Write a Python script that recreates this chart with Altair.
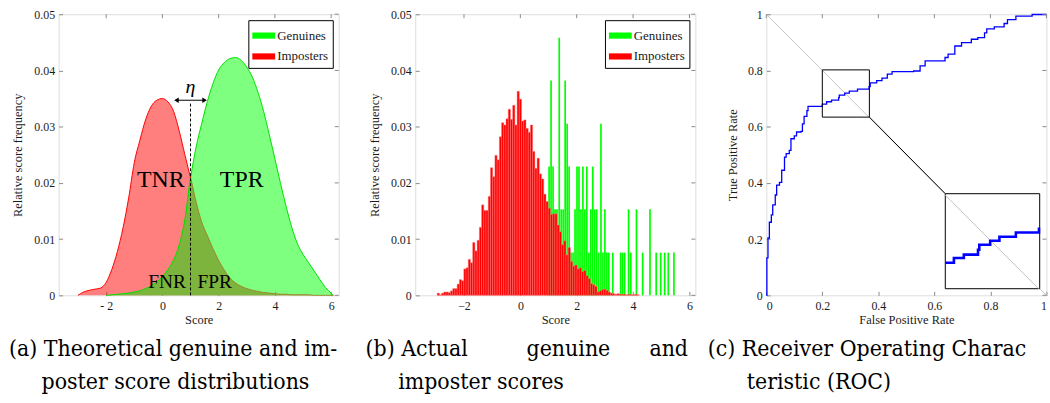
import altair as alt
import pandas as pd

FONT = "Liberation Serif"
CAP_FONT = "DejaVu Serif Condensed"
INK = "#1a1a1a"
TICK = "#8a8a8a"
NB = "\u00a0"
ZW = "\u200b"

# ---------------- (a) theoretical score distributions ----------------
score_grid = [-3.0, -2.8, -2.6, -2.4, -2.2, -2.0, -1.8, -1.6, -1.4, -1.2, -1.0, -0.8, -0.6,
              -0.4, -0.2, 0.0, 0.2, 0.4, 0.6, 0.8, 1.0, 1.2, 1.4, 1.6, 1.8, 2.0, 2.2, 2.4,
              2.6, 2.8, 3.0, 3.2, 3.4, 3.6, 3.8, 4.0, 4.2, 4.4, 4.6, 4.8, 5.0, 5.2, 5.4,
              5.6, 5.8, 6.0, 6.08]
imposter_density = [0.0, 0.0006, 0.0009, 0.0011, 0.0013, 0.0023, 0.0046, 0.0078, 0.0120, 0.0173,
                    0.0236, 0.0276, 0.0312, 0.0336, 0.0347, 0.0350, 0.0344, 0.0327, 0.0292, 0.0250,
                    0.0209, 0.0166, 0.0130, 0.0106, 0.0083, 0.0062, 0.0045, 0.0031, 0.0022, 0.0016,
                    0.0012, 0.0009, 0.0007, 0.0005, 0.0004, 0.0003, 0.0002, 0.0002, 0.0001, 0.0001,
                    0.0001, 0.0001, 0.0, 0.0, 0.0, 0.0, 0.0]
genuine_density = [None, None, None, None, None, 0.0, 0.0001, 0.0002, 0.0003, 0.0004,
                   0.0006, 0.0008, 0.0012, 0.0017, 0.0024, 0.0033, 0.0046, 0.0063, 0.0090, 0.0135,
                   0.0208, 0.0264, 0.0306, 0.0345, 0.0377, 0.0401, 0.0414, 0.0421, 0.0423, 0.0418,
                   0.0406, 0.0388, 0.0361, 0.0327, 0.0286, 0.0243, 0.0199, 0.0158, 0.0121, 0.0092,
                   0.0073, 0.0058, 0.0043, 0.0028, 0.0014, 0.0004, 0.0]
threshold_eta = 1.0
threshold_top = 0.0344
arrow_ends = [0.5, 1.5]
arrow_level = 0.0347
eta_x, eta_y = 1.0, 0.0370
big_labels, big_x, big_y = ["TNR", "TPR"], [-0.06, 2.82], [0.0205, 0.0205]
small_labels, small_x, small_y = ["FNR", "FPR"], [0.17, 1.86], [0.0023, 0.0023]

# ---------------- (b) actual score histograms ----------------
imposter_bin_start = -2.952
imposter_bin_width = 0.0788
imposter_hist = [0.0004, 0.0001, 0.0004, 0.0006, 0.0006, 0.0005, 0.0008, 0.0012, 0.0012, 0.0020,
                 0.0028, 0.0026, 0.0047, 0.0049, 0.0064, 0.0058, 0.0094, 0.0079, 0.0098, 0.0121,
                 0.0161, 0.0151, 0.0151, 0.0176, 0.0227, 0.0211, 0.0249, 0.0241, 0.0282, 0.0307,
                 0.0303, 0.0314, 0.0331, 0.0313, 0.0338, 0.0303, 0.0363, 0.0349, 0.0310, 0.0312,
                 0.0297, 0.0290, 0.0303, 0.0256, 0.0226, 0.0244, 0.0216, 0.0207, 0.0180, 0.0167,
                 0.0155, 0.0144, 0.0145, 0.0145, 0.0125, 0.0113, 0.0090, 0.0097, 0.0072, 0.0085,
                 0.0060, 0.0052, 0.0054, 0.0047, 0.0049, 0.0042, 0.0044, 0.0035, 0.0030, 0.0021,
                 0.0019, 0.0016, 0.0006, 0.0008, 0.0010, 0.0011, 0.0009, 0.0006, 0.0004, 0.0003,
                 0.0002, 0.0003, 0.0002, 0.0002, 0.0002, 0.0001, 0.0002, 0.0001, 0.0001, 0.0002,
                 0.0001]
genuine_bar_x = [1.02, 1.09, 1.16, 1.23, 1.30, 1.38, 1.45, 1.52, 1.59, 1.66, 1.73, 1.80, 1.87,
                 1.94, 2.01, 2.08, 2.15, 2.22, 2.29, 2.36, 2.43, 2.50, 2.57, 2.64, 2.71, 2.78,
                 2.86, 2.93, 3.00, 3.07, 3.14, 3.28, 3.56, 3.63, 3.70, 3.84, 3.92, 4.12, 4.34,
                 4.60, 4.82, 4.98, 5.12, 5.25, 5.45]
genuine_hist = [0.0229, 0.0382, 0.0229, 0.0153, 0.0153, 0.0458, 0.0153, 0.0153, 0.0382, 0.0305,
                0.0229, 0.0076, 0.0076, 0.0153, 0.0229, 0.0229, 0.0153, 0.0229, 0.0153, 0.0229,
                0.0076, 0.0153, 0.0229, 0.0153, 0.0153, 0.0076, 0.0305, 0.0076, 0.0153, 0.0076,
                0.0076, 0.0076, 0.0076, 0.0076, 0.0076, 0.0153, 0.0076, 0.0153, 0.0076, 0.0153,
                0.0076, 0.0076, 0.0076, 0.0076, 0.0076]
genuine_bar_width = 0.06

# ---------------- (c) ROC ----------------
fpr = [0, 0.002, 0.006, 0.011, 0.018, 0.023, 0.032, 0.037, 0.047, 0.055, 0.065, 0.071, 0.082,
       0.088, 0.1, 0.108, 0.124, 0.129, 0.135, 0.145, 0.149, 0.2, 0.2153, 0.233, 0.2582, 0.2605,
       0.2799, 0.2963, 0.3256, 0.3667, 0.371, 0.394, 0.413, 0.432, 0.449, 0.526, 0.549, 0.567,
       0.629, 0.638, 0.649, 0.673, 0.697, 0.732, 0.755, 0.779, 0.787, 0.814, 0.849, 0.861,
       0.891, 0.949, 1.0]
tpr = [0, 0.133, 0.204, 0.26, 0.286, 0.322, 0.357, 0.392, 0.402, 0.445, 0.492, 0.504, 0.516,
       0.557, 0.567, 0.581, 0.583, 0.61, 0.637, 0.657, 0.672, 0.680, 0.6886, 0.6945, 0.7032,
       0.712, 0.719, 0.7262, 0.7338, 0.7426, 0.756, 0.764, 0.773, 0.787, 0.796, 0.798, 0.816,
       0.834, 0.834, 0.846, 0.858, 0.887, 0.899, 0.911, 0.917, 0.934, 0.948, 0.955, 0.967,
       0.981, 0.993, 0.999, 1.0]
chance_x, chance_y = [0, 1], [1, 0]
zoom_box = [0.2, 0.368, 0.634, 0.802]      # x0, x1, y0, y1
inset_box = [0.639, 0.976, 0.0236, 0.3616]  # x0, x1, y0, y1

caption_a = ["(a) Theoretical genuine and im-", ZW + NB * 5 + "poster score distributions"]
caption_b = ["(b) Actual" + NB * 9 + "genuine" + NB * 6 + "and", ZW + NB * 5 + "imposter scores"]
caption_c = ["(c) Receiver Operating Charac", ZW + NB * 6 + "teristic (ROC)"]

W, H = 282, 283
WC = 282


def xaxis(title, values, expr=None, fmt="~g", flush=False):
    kw = dict(title=title, values=values, format=fmt, labelFont=FONT, labelFontSize=12,
              labelColor=INK, titleFont=FONT, titleFontSize=12.5, titleFontWeight="normal",
              titleColor=INK, tickColor=TICK, tickSize=4, offset=-4, domain=False, grid=False,
              labelPadding=5, titlePadding=2, labelFlush=flush)
    if expr:
        kw["labelExpr"] = expr
    return alt.Axis(**kw)


def yaxis(title, values, tp):
    return alt.Axis(title=title, values=values, format="~g", labelFont=FONT, labelFontSize=12,
                    labelColor=INK, titleFont=FONT, titleFontSize=12.5, titleFontWeight="normal",
                    titleColor=INK, tickColor=TICK, tickSize=4, offset=-4, domain=False,
                    grid=False, labelPadding=4, titlePadding=tp)


def frame_ticks(xvals, yvals, width):
    top = alt.Chart(pd.DataFrame({"x": xvals})).mark_rule(color=TICK).encode(
        x="x:Q", y=alt.value(0), y2=alt.value(4))
    right = alt.Chart(pd.DataFrame({"y": yvals})).mark_rule(color=TICK).encode(
        y="y:Q", x=alt.value(width), x2=alt.value(width - 4))
    return [top, right]


def caption(lines, dx):
    return alt.TitleParams(text=lines, orient="bottom", anchor="start", frame="group", dx=dx,
                           offset=13, font=CAP_FONT, fontSize=23, fontWeight="normal",
                           color="black", lineHeight=33)


def make_legend():
    return alt.Legend(title=None, orient="top-right", offset=6, padding=4, strokeColor="black",
                      fillColor="white", symbolType="M-1,-0.27H1V0.27H-1Z", symbolSize=529,
                      symbolStrokeWidth=0, symbolOpacity=1, labelFont=FONT, labelFontSize=13,
                      labelColor=INK, rowPadding=2, labelOffset=2, cornerRadius=0)


def color_enc():
    return alt.Color("series:N", scale=alt.Scale(domain=["Genuines", "Imposters"],
                                                 range=["#00ff00", "#ff0000"]),
                     legend=make_legend())


yvals_ab = [0, 0.01, 0.02, 0.03, 0.04, 0.05]
xvals_ab = [-2, 0, 2, 4, 6]

# ---- panel (a)
n = len(score_grid)
dens = pd.DataFrame({"x": score_grid * 2, "y": genuine_density + imposter_density,
                     "series": ["Genuines"] * n + ["Imposters"] * n}).dropna()
overlap = pd.DataFrame({"x": score_grid,
                        "y": [None if g is None else min(g, i)
                              for g, i in zip(genuine_density, imposter_density)]}).dropna()
imp = pd.DataFrame({"x": score_grid, "y": imposter_density})
gen = pd.DataFrame({"x": score_grid, "y": genuine_density}).dropna()

xa = alt.X("x:Q", scale=alt.Scale(domain=[-3.69, 6.27], nice=False, zero=False),
           axis=xaxis("Score", xvals_ab, "datum.value == -2 ? '- 2' : datum.label"))
ya = alt.Y("y:Q", stack=None, scale=alt.Scale(domain=[0, 0.05], nice=False),
           axis=yaxis("Relative score frequency", yvals_ab, 9))

a_area = alt.Chart(dens).mark_area(opacity=0.5, interpolate="monotone").encode(
    x=xa, y=ya, color=color_enc())
a_olive = alt.Chart(overlap).mark_area(color="#7db43e", interpolate="monotone").encode(x=xa, y=ya)
a_gline = alt.Chart(gen).mark_line(color="#00e000", strokeWidth=1, interpolate="monotone").encode(
    x=xa, y=ya)
a_rline_l = alt.Chart(imp[imp.x <= threshold_eta]).mark_line(
    color="#ff0000", strokeWidth=1, interpolate="monotone").encode(x=xa, y=ya)
a_rline_r = alt.Chart(imp[imp.x >= threshold_eta]).mark_line(
    color="#9c8a30", strokeWidth=1, interpolate="monotone").encode(x=xa, y=ya)
a_thr = alt.Chart(pd.DataFrame({"x": [threshold_eta], "y": [0.0], "y2": [threshold_top]})).mark_rule(
    color="black", strokeDash=[3, 2], strokeWidth=1).encode(x=xa, y=ya, y2="y2:Q")
a_arrow = alt.Chart(pd.DataFrame({"x": [arrow_ends[0]], "x2": [arrow_ends[1]],
                                  "y": [arrow_level]})).mark_rule(
    color="black", strokeWidth=1).encode(x=xa, x2="x2:Q", y=ya)
a_heads = alt.Chart(pd.DataFrame({"x": arrow_ends, "y": [arrow_level] * 2,
                                  "d": ["l", "r"]})).mark_point(
    filled=True, color="black", size=28, opacity=1).encode(
    x=xa, y=ya, shape=alt.Shape("d:N", scale=alt.Scale(domain=["l", "r"],
                                                       range=["triangle-left", "triangle-right"]),
                                legend=None))
a_eta = alt.Chart(pd.DataFrame({"x": [eta_x], "y": [eta_y], "t": ["η"]})).mark_text(
    font=FONT, fontSize=20, fontStyle="italic", color="black").encode(x=xa, y=ya, text="t:N")
a_big = alt.Chart(pd.DataFrame({"x": big_x, "y": big_y, "t": big_labels})).mark_text(
    font=FONT, fontSize=24, color="black", baseline="middle").encode(x=xa, y=ya, text="t:N")
a_small = alt.Chart(pd.DataFrame({"x": small_x, "y": small_y, "t": small_labels})).mark_text(
    font=FONT, fontSize=19.5, color="black", baseline="middle").encode(x=xa, y=ya, text="t:N")

panel_a = alt.layer(a_area, a_olive, a_gline, a_rline_l, a_rline_r, a_thr, a_arrow, a_heads,
                    a_eta, a_big, a_small, *frame_ticks(xvals_ab, yvals_ab, W)).properties(
    width=W, height=H, title=caption(caption_a, -50))

# ---- panel (b)
red = pd.DataFrame({"x": [imposter_bin_start + k * imposter_bin_width for k in range(len(imposter_hist))],
                    "y": imposter_hist, "series": "Imposters"})
red["x2"] = red["x"] + imposter_bin_width
red["y0"] = 0.0
green = pd.DataFrame({"c": genuine_bar_x, "y": genuine_hist, "series": "Genuines"})
green["x"] = green["c"] - genuine_bar_width / 2
green["x2"] = green["c"] + genuine_bar_width / 2
green["y0"] = 0.0

xb = alt.X("x:Q", scale=alt.Scale(domain=[-3.73, 6.21], nice=False, zero=False),
           axis=xaxis("Score", xvals_ab))
yb = alt.Y("y:Q", scale=alt.Scale(domain=[0, 0.05], nice=False),
           axis=yaxis("Relative score frequency", yvals_ab, 9))
b_green = alt.Chart(green).mark_rect(strokeWidth=0).encode(
    x=xb, x2="x2:Q", y=yb, y2="y0:Q", color=color_enc())
b_red = alt.Chart(red).mark_rect(stroke="#ff7a7a", strokeWidth=0.45).encode(
    x=xb, x2="x2:Q", y=yb, y2="y0:Q", color=color_enc())
panel_b = alt.layer(b_green, b_red, *frame_ticks(xvals_ab, yvals_ab, W)).properties(
    width=W, height=H, title=caption(caption_b, -50))

# ---- panel (c)
roc = pd.DataFrame({"x": fpr, "y": tpr, "i": range(len(fpr))})
s = (inset_box[1] - inset_box[0]) / (zoom_box[1] - zoom_box[0])


def to_inset(df):
    out = df.copy()
    out["x"] = inset_box[0] + (df["x"] - zoom_box[0]) * s
    out["y"] = inset_box[2] + (df["y"] - zoom_box[2]) * s
    return out


roc_in = to_inset(roc[(roc.x >= zoom_box[0]) & (roc.x <= zoom_box[1])])
chance = pd.DataFrame({"x": chance_x, "y": chance_y})
chance_in = to_inset(pd.DataFrame({"x": [zoom_box[0], 1 - zoom_box[2]],
                                   "y": [1 - zoom_box[0], zoom_box[2]]}))

xvals_c = [0, 0.2, 0.4, 0.6, 0.8, 1]
xc = alt.X("x:Q", scale=alt.Scale(domain=[0, 1], nice=False),
           axis=xaxis("False Positive Rate", xvals_c, flush=True))
yc = alt.Y("y:Q", scale=alt.Scale(domain=[0, 1], nice=False),
           axis=yaxis("True Positive Rate", xvals_c, 8))

c_diag = alt.Chart(chance).mark_line(color="#c4c4c4", strokeWidth=1).encode(x=xc, y=yc)
c_roc = alt.Chart(roc).mark_line(color="#0000ff", strokeWidth=1.3, interpolate="step-after").encode(
    x=xc, y=yc, order="i:Q")
c_zoom = alt.Chart(pd.DataFrame({"x": [zoom_box[0]], "x2": [zoom_box[1]], "y": [zoom_box[2]],
                                 "y2": [zoom_box[3]]})).mark_rect(
    fillOpacity=0, stroke="black", strokeWidth=1).encode(x=xc, x2="x2:Q", y=yc, y2="y2:Q")
c_link = alt.Chart(pd.DataFrame({"x": [zoom_box[1]], "y": [zoom_box[2]], "x2": [inset_box[0]],
                                 "y2": [inset_box[3]]})).mark_rule(
    color="black", strokeWidth=1).encode(x=xc, y=yc, x2="x2:Q", y2="y2:Q")
c_inset = alt.Chart(pd.DataFrame({"x": [inset_box[0]], "x2": [inset_box[1]], "y": [inset_box[2]],
                                  "y2": [inset_box[3]]})).mark_rect(
    fill="white", stroke="black", strokeWidth=1).encode(x=xc, x2="x2:Q", y=yc, y2="y2:Q")
c_diag_in = alt.Chart(chance_in).mark_line(color="#c4c4c4", strokeWidth=1).encode(x=xc, y=yc)
c_roc_in = alt.Chart(roc_in).mark_line(color="#0000ff", strokeWidth=2.6,
                                       interpolate="step-after").encode(x=xc, y=yc, order="i:Q")
panel_c = alt.layer(c_diag, c_roc, c_zoom, c_link, c_inset, c_diag_in, c_roc_in,
                    *frame_ticks(xvals_c, xvals_c, WC)).properties(
    width=WC, height=H, title=caption(caption_c, -59))

left = alt.hconcat(panel_a, panel_b, spacing=77, bounds="flush").resolve_scale(
    color="independent").resolve_legend(color="independent")
chart = alt.hconcat(left, panel_c, spacing=10.4).resolve_scale(
    color="independent").resolve_legend(color="independent").properties(
    padding={"left": 8, "top": 6, "right": 0, "bottom": 0}
).configure_view(stroke="black", strokeWidth=1).configure(background="white")

chart.save("out.html", embed_options={"renderer": "svg", "actions": False})
